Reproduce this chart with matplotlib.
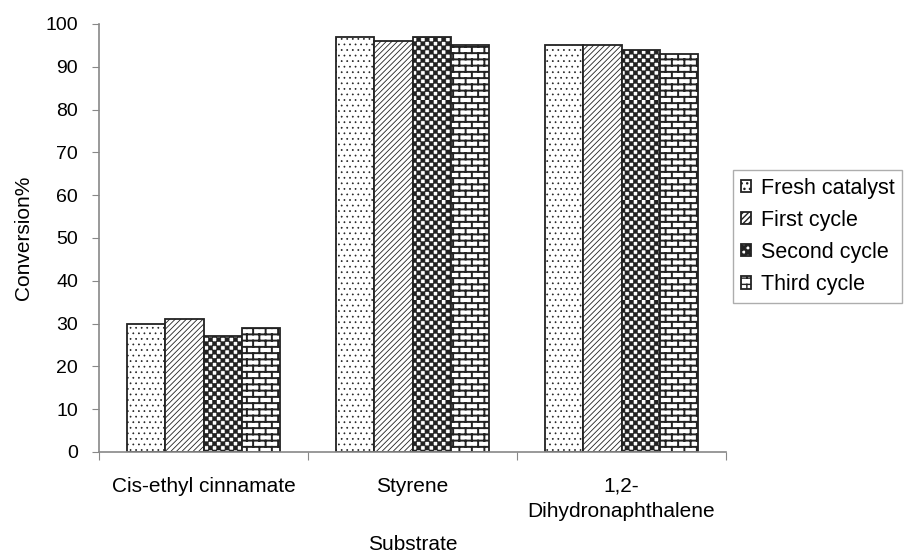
import numpy as np
import matplotlib
matplotlib.use("Agg")
import matplotlib.pyplot as plt
import matplotlib.hatch as mhatch
from matplotlib.path import Path

# ---------------- data ----------------
categories = ["Cis-ethyl cinnamate", "Styrene", "1,2-\nDihydronaphthalene"]
series_names = ["Fresh catalyst", "First cycle", "Second cycle", "Third cycle"]
fresh = [30, 97, 95]
first = [31, 96, 95]
second = [27, 97, 94]
third = [29, 95, 93]
yticks = [0, 10, 20, 30, 40, 50, 60, 70, 80, 90, 100]


# ---------------- custom hatch patterns ----------------
class CheckerHatch(mhatch.HatchPatternBase):
    def __init__(self, hatch, density):
        self.n = 24 if '*' in hatch else 0
        self.cells = [(i, j) for i in range(self.n) for j in range(self.n)
                      if (i + j) % 2 == 0]
        self.num_vertices = len(self.cells) * 5

    def set_vertices_and_codes(self, vertices, codes):
        s = 1.0 / self.n
        for k, (i, j) in enumerate(self.cells):
            x0, y0 = i * s, j * s
            vertices[5 * k:5 * k + 5] = [(x0, y0), (x0 + s, y0), (x0 + s, y0 + s),
                                         (x0, y0 + s), (x0, y0)]
            codes[5 * k:5 * k + 5] = [Path.MOVETO, Path.LINETO, Path.LINETO,
                                      Path.LINETO, Path.CLOSEPOLY]


class BrickHatch(mhatch.HatchPatternBase):
    def __init__(self, hatch, density):
        on = 'O' in hatch
        self.rows = 16 if on else 0
        self.cols = 8
        self.num_vertices = (self.rows * 2 + self.rows * self.cols * 2
                             + self.cols * 2) if on else 0

    def set_vertices_and_codes(self, v, c):
        h = 1.0 / self.rows
        w = 1.0 / self.cols
        k = 0
        for r in range(self.rows):
            y = r * h + h / 2
            v[k] = (0, y); v[k + 1] = (1, y)
            c[k] = Path.MOVETO; c[k + 1] = Path.LINETO
            k += 2
            off = w / 4 if r % 2 == 0 else 3 * w / 4
            for q in range(self.cols):
                x = q * w + off
                if r < self.rows - 1:
                    segs = [(y, y + h)]
                else:
                    segs = [(y, 1.0), (0.0, h / 2)]
                for (ya, yb) in segs:
                    v[k] = (x, ya); v[k + 1] = (x, yb)
                    c[k] = Path.MOVETO; c[k + 1] = Path.LINETO
                    k += 2


new_types = []
for t in mhatch._hatch_types:
    if t.__name__ == 'Stars':
        new_types.append(CheckerHatch)
    elif t.__name__ == 'LargeCircles':
        new_types.append(BrickHatch)
    else:
        new_types.append(t)
mhatch._hatch_types = new_types

# ---------------- figure ----------------
plt.rcParams['font.family'] = ['Liberation Sans', 'DejaVu Sans']
plt.rcParams['font.size'] = 15

fig = plt.figure(figsize=(9.09, 5.54), dpi=100)
ax = fig.add_axes([99 / 909, 1 - 452 / 554, (726 - 99) / 909, (452 - 24) / 554])

x = np.arange(len(categories))
bw = 0.184
all_series = [fresh, first, second, third]
hatches = ['...', '//////', '*', 'O']
hlw = [0.5, 0.6, 0.4, 1.4]
for i, (vals, name, h, lw) in enumerate(zip(all_series, series_names, hatches, hlw)):
    with plt.rc_context({'hatch.linewidth': lw}):
        ax.bar(x + (i - 1.5) * bw, vals, width=bw, color='white',
               edgecolor='#222222', linewidth=1.3, hatch=h, label=name)

ax.set_xlim(-0.5, len(categories) - 0.5)
ax.set_ylim(0, 100)
ax.set_yticks(yticks)
ax.tick_params(axis='y', direction='out', length=5, pad=10, color='#888888',
               labelsize=14)

ax.set_xticks(np.arange(-0.5, len(categories)), minor=False)
ax.set_xticklabels([])
ax.tick_params(axis='x', which='major', direction='out', length=6, color='#888888')
ax.set_xticks(x, minor=True)
ax.set_xticklabels(categories, minor=True, linespacing=1.4)
ax.tick_params(axis='x', which='minor', length=0, pad=18, labelsize=15)

for s in ['top', 'right']:
    ax.spines[s].set_visible(False)
for s in ['left', 'bottom']:
    ax.spines[s].set_color('#888888')
    ax.spines[s].set_linewidth(1.2)

ax.set_ylabel("Conversion%", fontsize=15, labelpad=9)
ax.set_xlabel("Substrate", fontsize=15, labelpad=10)

leg = ax.legend(loc='upper left', bbox_to_anchor=(733 / 909, 1 - 170 / 554),
                bbox_transform=fig.transFigure, borderaxespad=0,
                fancybox=False, frameon=True, handlelength=0.5, handleheight=0.5,
                handletextpad=0.45, labelspacing=0.52, fontsize=15.5,
                borderpad=0.35)
leg.get_frame().set_edgecolor('#999999')
leg.get_frame().set_linewidth(1.0)

fig.savefig("out.png", dpi=100)
